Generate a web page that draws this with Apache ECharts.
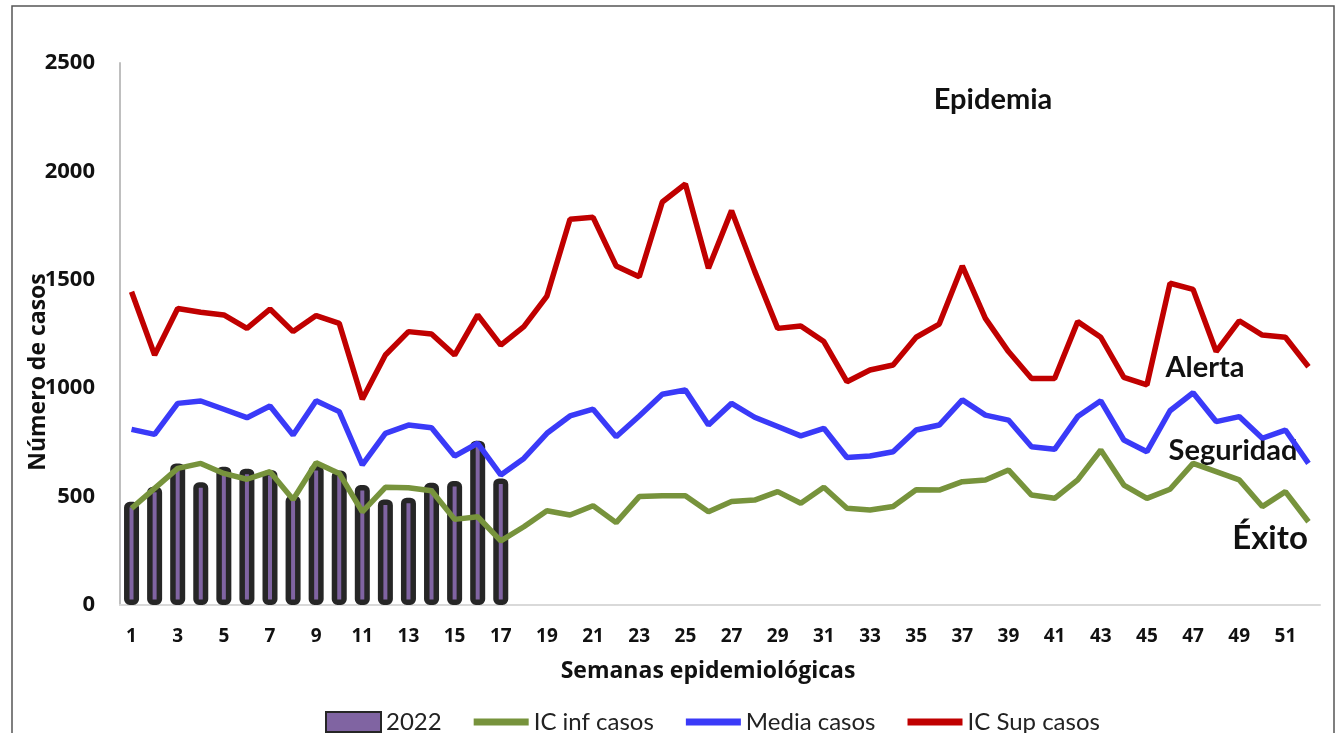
<!DOCTYPE html>
<html>
<head>
<meta charset="utf-8">
<script src="https://cdn.jsdelivr.net/npm/echarts@6/dist/echarts.min.js"></script>
<style>
  html, body { margin: 0; padding: 0; background: #fff; }
  #chart { width: 1337px; height: 733px; }
</style>
</head>
<body>
<div id="chart"></div>
<script>
// Semanas epidemiológicas 1..52
const semanas = ['1','2','3','4','5','6','7','8','9','10','11','12','13','14','15','16','17','18','19','20',
  '21','22','23','24','25','26','27','28','29','30','31','32','33','34','35','36','37','38','39','40',
  '41','42','43','44','45','46','47','48','49','50','51','52'];

// casos 2022 (solo semanas 1-17)
const casos2022 = [476, 546, 653, 566, 638, 629, 623, 505, 646, 620, 553, 487, 495, 564, 572, 758, 584];

// canal endémico
const icInf = [446, 538, 630, 653, 607, 580, 615, 487, 656, 607, 430, 543, 541, 527, 395, 407, 296, 361, 435, 415,
  458, 380, 500, 504, 504, 430, 477, 484, 523, 469, 543, 446, 438, 454, 532, 530, 569, 577, 623, 507,
  492, 577, 715, 553, 492, 534, 653, 615, 577, 454, 523, 384];
const media = [810, 787, 930, 941, 903, 864, 918, 784, 942, 892, 646, 792, 830, 818, 687, 746, 600, 676, 792, 872,
  903, 776, 872, 972, 992, 830, 930, 866, 823, 780, 815, 680, 687, 707, 807, 830, 946, 876, 853, 730,
  718, 869, 942, 761, 707, 896, 979, 846, 869, 769, 807, 653];
const icSup = [1445, 1153, 1368, 1350, 1338, 1276, 1365, 1261, 1335, 1299, 949, 1153, 1261, 1250, 1153, 1338, 1199, 1284, 1425, 1779,
  1788, 1564, 1514, 1859, 1942, 1553, 1819, 1540, 1276, 1287, 1215, 1030, 1084, 1107, 1235, 1296, 1564, 1322, 1169, 1045,
  1045, 1307, 1235, 1050, 1015, 1484, 1456, 1169, 1311, 1245, 1235, 1099];

const FONT = 'Lato, "Open Sans", sans-serif';
const BOLD = '"Open Sans", Lato, sans-serif';
// flat bar used as legend icon for the lines
const LINE_ICON = 'path://M0,0L55,0L55,7L0,7Z';

const chart = echarts.init(document.getElementById('chart'), null, { renderer: 'canvas' });
chart.setOption({
  animation: false,
  backgroundColor: '#fff',
  textStyle: { fontFamily: FONT },
  grid: { left: 120, right: 17, top: 63, bottom: 128 },
  legend: {
    top: 705, left: 320,
    itemWidth: 55, itemHeight: 20, itemGap: 32,
    textStyle: { fontSize: 24, color: '#222', fontFamily: FONT },
    data: [
      { name: '2022', icon: 'rect' },
      { name: 'IC inf casos', icon: LINE_ICON },
      { name: 'Media casos', icon: LINE_ICON },
      { name: 'IC Sup casos', icon: LINE_ICON },
    ],
  },
  xAxis: {
    type: 'category', data: semanas,
    name: 'Semanas epidemiológicas', nameLocation: 'middle', nameGap: 55,
    nameTextStyle: { fontSize: 23, fontWeight: 'bold', color: '#111', fontFamily: BOLD, padding: [0, 24, 0, 0] },
    axisLine: { lineStyle: { color: '#d9d9d9', width: 2 } },
    axisTick: { show: false },
    axisLabel: { interval: 1, margin: 22, fontSize: 19, fontWeight: 'bold', color: '#111', fontFamily: BOLD },
  },
  yAxis: {
    type: 'value', min: 0, max: 2500, interval: 500,
    axisLine: { show: true, lineStyle: { color: '#bfbfbf', width: 2 } },
    axisTick: { show: false },
    splitLine: { show: false },
    axisLabel: { margin: 25, fontSize: 22, fontWeight: 'bold', color: '#111', fontFamily: BOLD,
      formatter: (v) => String(v) },
  },
  graphic: [
    { type: 'rect', shape: { x: 12, y: 6, width: 1322, height: 760 }, style: { fill: 'none', stroke: '#555', lineWidth: 1.5 }, z: -1 },
    { type: 'text', x: 38, y: 372, rotation: Math.PI / 2,
      style: { text: 'Número de casos', font: 'bold 23px ' + BOLD, fill: '#111', align: 'center', verticalAlign: 'middle' } },
    { type: 'text', x: 993, y: 100,
      style: { text: 'Epidemia', font: 'bold 29px ' + FONT, fill: '#111', align: 'center', verticalAlign: 'middle' } },
    { type: 'text', x: 1205, y: 368,
      style: { text: 'Alerta', font: 'bold 29px ' + FONT, fill: '#111', align: 'center', verticalAlign: 'middle' } },
    { type: 'text', x: 1233, y: 451,
      style: { text: 'Seguridad', font: 'bold 29px ' + FONT, fill: '#111', align: 'center', verticalAlign: 'middle' } },
    { type: 'text', x: 1270, y: 538,
      style: { text: 'Éxito', font: 'bold 33px ' + FONT, fill: '#111', align: 'center', verticalAlign: 'middle' } },
  ],
  series: [
    { name: '2022', type: 'bar', data: casos2022, barWidth: 15,
      itemStyle: { color: '#8064A2', borderColor: '#262626', borderWidth: 5.5, borderRadius: 3 } },
    { name: 'IC inf casos', type: 'line', data: icInf, symbol: 'none',
      lineStyle: { color: '#77933C', width: 5.5 }, itemStyle: { color: '#77933C' } },
    { name: 'Media casos', type: 'line', data: media, symbol: 'none',
      lineStyle: { color: '#3A3AF8', width: 5.5 }, itemStyle: { color: '#3A3AF8' } },
    { name: 'IC Sup casos', type: 'line', data: icSup, symbol: 'none',
      lineStyle: { color: '#C00000', width: 5.5 }, itemStyle: { color: '#C00000' } },
  ],
});
</script>
</body>
</html>
